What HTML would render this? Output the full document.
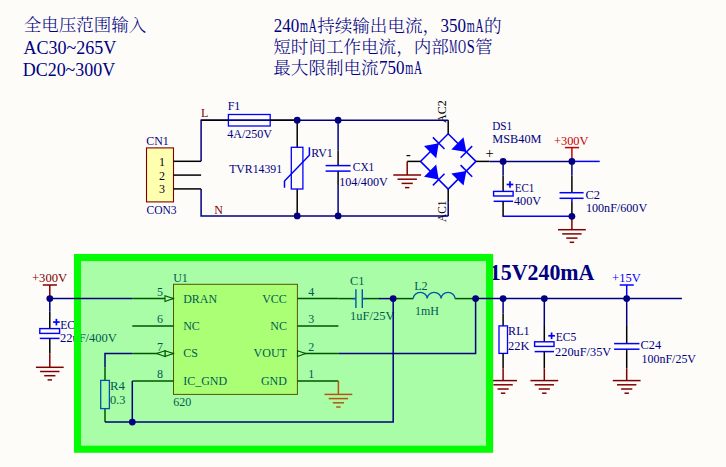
<!DOCTYPE html>
<html><head><meta charset="utf-8"><title>schematic</title>
<style>
html,body{margin:0;padding:0;background:#fefcf9;}
body{width:726px;height:467px;overflow:hidden;}
svg{display:block;font-family:"Liberation Serif","Noto Serif CJK SC",serif;}
</style></head><body>
<svg width="726" height="467" viewBox="0 0 726 467">
<rect width="726" height="467" fill="#fefcf9"/>
<g>
<text x="23.8" y="30.8" fill="#000080" font-size="17.6" textLength="122.6" lengthAdjust="spacingAndGlyphs" text-anchor="start" font-family='"Liberation Serif","Noto Serif CJK SC",serif' font-weight="300">全电压范围输入</text>
<text x="23.4" y="54.0" fill="#000080" font-size="18" textLength="93.0" lengthAdjust="spacingAndGlyphs" text-anchor="start">AC30~265V</text>
<text x="22.7" y="75.7" fill="#000080" font-size="18" textLength="92.6" lengthAdjust="spacingAndGlyphs" text-anchor="start">DC20~300V</text>
<text y="32.0" fill="#000080"><tspan x="273.7" font-size="18" textLength="25.5" lengthAdjust="spacingAndGlyphs" font-family='"Liberation Serif",serif'>240</tspan><tspan x="300.0" font-size="18" textLength="8.0" lengthAdjust="spacingAndGlyphs" font-family='"Liberation Serif",serif'>m</tspan><tspan x="308.8" font-size="18" textLength="8.0" lengthAdjust="spacingAndGlyphs" font-family='"Liberation Serif",serif'>A</tspan><tspan x="317.2" font-size="17.5" font-weight="300" textLength="122.9" lengthAdjust="spacingAndGlyphs" font-family='"Liberation Serif","Noto Serif CJK SC",serif'>持续输出电流，</tspan><tspan x="440.4" font-size="18" textLength="25.5" lengthAdjust="spacingAndGlyphs" font-family='"Liberation Serif",serif'>350</tspan><tspan x="466.8" font-size="18" textLength="8.0" lengthAdjust="spacingAndGlyphs" font-family='"Liberation Serif",serif'>m</tspan><tspan x="475.5" font-size="18" textLength="8.0" lengthAdjust="spacingAndGlyphs" font-family='"Liberation Serif",serif'>A</tspan><tspan x="483.9" font-size="17.5" font-weight="300" textLength="17.6" lengthAdjust="spacingAndGlyphs" font-family='"Liberation Serif","Noto Serif CJK SC",serif'>的</tspan></text>
<text y="52.7" fill="#000080"><tspan x="273.3" font-size="17.5" font-weight="300" textLength="175.5" lengthAdjust="spacingAndGlyphs" font-family='"Liberation Serif","Noto Serif CJK SC",serif'>短时间工作电流，内部</tspan><tspan x="449.2" font-size="18" textLength="8.0" lengthAdjust="spacingAndGlyphs" font-family='"Liberation Serif",serif'>M</tspan><tspan x="458.0" font-size="18" textLength="8.0" lengthAdjust="spacingAndGlyphs" font-family='"Liberation Serif",serif'>O</tspan><tspan x="466.8" font-size="18" textLength="8.0" lengthAdjust="spacingAndGlyphs" font-family='"Liberation Serif",serif'>S</tspan><tspan x="475.1" font-size="17.5" font-weight="300" textLength="17.6" lengthAdjust="spacingAndGlyphs" font-family='"Liberation Serif","Noto Serif CJK SC",serif'>管</tspan></text>
<text y="73.6" fill="#000080"><tspan x="273.3" font-size="17.5" font-weight="300" textLength="105.3" lengthAdjust="spacingAndGlyphs" font-family='"Liberation Serif","Noto Serif CJK SC",serif'>最大限制电流</tspan><tspan x="379.0" font-size="18" textLength="25.5" lengthAdjust="spacingAndGlyphs" font-family='"Liberation Serif",serif'>750</tspan><tspan x="405.3" font-size="18" textLength="8.0" lengthAdjust="spacingAndGlyphs" font-family='"Liberation Serif",serif'>m</tspan><tspan x="414.1" font-size="18" textLength="8.0" lengthAdjust="spacingAndGlyphs" font-family='"Liberation Serif",serif'>A</tspan></text>
<rect x="146.5" y="147.9" width="27.0" height="54.0" stroke="#800000" stroke-width="1.1" fill="#ffffb0"/>
<path d="M173.5 161.3 L201.1 161.3" stroke="#000000" stroke-width="1.5" fill="none" stroke-linecap="butt" stroke-linejoin="miter"/>
<text x="158.9" y="165.7" fill="#00002a" font-size="12" text-anchor="start">1</text>
<path d="M173.5 175.1 L201.1 175.1" stroke="#000000" stroke-width="1.5" fill="none" stroke-linecap="butt" stroke-linejoin="miter"/>
<text x="158.9" y="179.5" fill="#00002a" font-size="12" text-anchor="start">2</text>
<path d="M173.5 188.9 L201.1 188.9" stroke="#000000" stroke-width="1.5" fill="none" stroke-linecap="butt" stroke-linejoin="miter"/>
<text x="158.9" y="193.3" fill="#00002a" font-size="12" text-anchor="start">3</text>
<text x="146.2" y="144.8" fill="#000080" font-size="12" textLength="22.5" lengthAdjust="spacingAndGlyphs" text-anchor="start">CN1</text>
<text x="146.5" y="213.8" fill="#000080" font-size="12" textLength="30.1" lengthAdjust="spacingAndGlyphs" text-anchor="start">CON3</text>
<text x="201.1" y="116.9" fill="#800000" font-size="12" text-anchor="start">L</text>
<text x="214.3" y="213.8" fill="#800000" font-size="12" text-anchor="start">N</text>
<path d="M228.0 120.2 L270.0 120.2" stroke="#0000ff" stroke-width="1.5" fill="none" stroke-linecap="butt" stroke-linejoin="miter"/>
<rect x="228.4" y="114.5" width="41.8" height="11.5" stroke="#0000ff" stroke-width="1.3" fill="none"/>
<text x="227.7" y="110.0" fill="#000080" font-size="12" text-anchor="start">F1</text>
<text x="227.2" y="138.3" fill="#000080" font-size="12" textLength="44.9" lengthAdjust="spacingAndGlyphs" text-anchor="start">4A/250V</text>
<path d="M297.2 120.2 L297.2 147.3" stroke="#000000" stroke-width="1.5" fill="none" stroke-linecap="butt" stroke-linejoin="miter"/>
<path d="M297.2 189.0 L297.2 215.9" stroke="#000000" stroke-width="1.5" fill="none" stroke-linecap="butt" stroke-linejoin="miter"/>
<rect x="291.3" y="147.3" width="11.6" height="41.7" stroke="#0000ff" stroke-width="1.3" fill="none"/>
<path d="M284.5 187.8 L284.5 181.0 L309.4 155.3 L309.4 147.3" stroke="#0000ff" stroke-width="1.5" fill="none" stroke-linecap="butt" stroke-linejoin="miter"/>
<text x="229.2" y="172.8" fill="#000080" font-size="12" textLength="52.9" lengthAdjust="spacingAndGlyphs" text-anchor="start">TVR14391</text>
<text x="311.2" y="157.4" fill="#000080" font-size="12" textLength="21.6" lengthAdjust="spacingAndGlyphs" text-anchor="start">RV1</text>
<path d="M338.1 150.5 L338.1 165.6" stroke="#000000" stroke-width="1.5" fill="none" stroke-linecap="butt" stroke-linejoin="miter"/>
<path d="M338.1 171.1 L338.1 185.0" stroke="#000000" stroke-width="1.5" fill="none" stroke-linecap="butt" stroke-linejoin="miter"/>
<path d="M325.6 165.6 L350.6 165.6" stroke="#0000ff" stroke-width="1.5" fill="none" stroke-linecap="butt" stroke-linejoin="miter"/>
<path d="M325.6 171.1 L350.6 171.1" stroke="#0000ff" stroke-width="1.5" fill="none" stroke-linecap="butt" stroke-linejoin="miter"/>
<text x="352.8" y="171.3" fill="#000080" font-size="12" textLength="21.5" lengthAdjust="spacingAndGlyphs" text-anchor="start">CX1</text>
<text x="339.2" y="185.8" fill="#000080" font-size="12" textLength="48.7" lengthAdjust="spacingAndGlyphs" text-anchor="start">104/400V</text>
<path d="M448.2 133.7 L475.9 161.4 L448.2 189.1 L420.5 161.4 L448.2 133.7 L475.9 161.4" stroke="#0000ff" stroke-width="1.5" fill="none" stroke-linecap="butt" stroke-linejoin="miter"/>
<polygon points="436.2,158.3 424.0,146.1 438.7,143.2" fill="#0000ff"/>
<path d="M444.5 149.0 L432.9 137.4" stroke="#0000ff" stroke-width="1.5" fill="none" stroke-linecap="butt" stroke-linejoin="miter"/>
<polygon points="451.3,149.4 463.5,137.2 466.4,151.9" fill="#0000ff"/>
<path d="M460.6 157.7 L472.2 146.1" stroke="#0000ff" stroke-width="1.5" fill="none" stroke-linecap="butt" stroke-linejoin="miter"/>
<polygon points="436.2,164.5 424.0,176.7 438.7,179.6" fill="#0000ff"/>
<path d="M432.9 185.4 L444.5 173.8" stroke="#0000ff" stroke-width="1.5" fill="none" stroke-linecap="butt" stroke-linejoin="miter"/>
<polygon points="451.3,173.4 463.5,185.6 466.4,170.9" fill="#0000ff"/>
<path d="M472.2 176.7 L460.6 165.1" stroke="#0000ff" stroke-width="1.5" fill="none" stroke-linecap="butt" stroke-linejoin="miter"/>
<path d="M448.2 120.2 L448.2 133.7" stroke="#000000" stroke-width="1.5" fill="none" stroke-linecap="butt" stroke-linejoin="miter"/>
<path d="M448.2 189.1 L448.2 202.3" stroke="#000000" stroke-width="1.5" fill="none" stroke-linecap="butt" stroke-linejoin="miter"/>
<path d="M407.2 161.4 L420.5 161.4" stroke="#000000" stroke-width="1.5" fill="none" stroke-linecap="butt" stroke-linejoin="miter"/>
<path d="M475.9 161.4 L489.6 161.4" stroke="#000000" stroke-width="1.5" fill="none" stroke-linecap="butt" stroke-linejoin="miter"/>
<path d="M407.2 161.4 L407.2 175.0" stroke="#800000" stroke-width="1.5" fill="none" stroke-linecap="butt" stroke-linejoin="miter"/>
<path d="M393.3 175.0 L421.1 175.0" stroke="#800000" stroke-width="1.5" fill="none" stroke-linecap="butt" stroke-linejoin="miter"/>
<path d="M397.5 179.2 L416.9 179.2" stroke="#800000" stroke-width="1.5" fill="none" stroke-linecap="butt" stroke-linejoin="miter"/>
<path d="M401.6 183.4 L412.8 183.4" stroke="#800000" stroke-width="1.5" fill="none" stroke-linecap="butt" stroke-linejoin="miter"/>
<path d="M405.0 187.6 L409.4 187.6" stroke="#800000" stroke-width="1.5" fill="none" stroke-linecap="butt" stroke-linejoin="miter"/>
<text x="405.9" y="159.0" fill="#000000" font-size="14" text-anchor="start" font-weight="bold">-</text>
<text x="485.4" y="158.3" fill="#000000" font-size="14.5" text-anchor="start">+</text>
<text transform="translate(446.2,122.9) rotate(-90)" fill="#000000" font-size="12" textLength="22.6" lengthAdjust="spacingAndGlyphs">AC2</text>
<text transform="translate(445.6,222.0) rotate(-90)" fill="#000000" font-size="12" textLength="21.4" lengthAdjust="spacingAndGlyphs">AC1</text>
<text x="492.2" y="129.5" fill="#000080" font-size="12" textLength="20.0" lengthAdjust="spacingAndGlyphs" text-anchor="start">DS1</text>
<text x="492.3" y="143.0" fill="#000080" font-size="12" textLength="49.2" lengthAdjust="spacingAndGlyphs" text-anchor="start">MSB40M</text>
<path d="M503.1 175.5 L503.1 191.4" stroke="#000000" stroke-width="1.5" fill="none" stroke-linecap="butt" stroke-linejoin="miter"/>
<rect x="493.6" y="191.4" width="19.5" height="4.6" stroke="#0000ff" stroke-width="1.4" fill="none"/>
<path d="M493.6 201.3 L513.1 201.3" stroke="#0000ff" stroke-width="1.5" fill="none" stroke-linecap="butt" stroke-linejoin="miter"/>
<path d="M503.1 201.3 L503.1 216.3" stroke="#000000" stroke-width="1.5" fill="none" stroke-linecap="butt" stroke-linejoin="miter"/>
<path d="M506.7 184.5 L513.3 184.5" stroke="#0000ff" stroke-width="1.7" fill="none" stroke-linecap="butt" stroke-linejoin="miter"/>
<path d="M510.0 181.2 L510.0 187.8" stroke="#0000ff" stroke-width="1.7" fill="none" stroke-linecap="butt" stroke-linejoin="miter"/>
<text x="514.7" y="191.5" fill="#000080" font-size="12" textLength="19.6" lengthAdjust="spacingAndGlyphs" text-anchor="start">EC1</text>
<text x="514.0" y="204.7" fill="#000080" font-size="12" textLength="27.2" lengthAdjust="spacingAndGlyphs" text-anchor="start">400V</text>
<path d="M571.9 175.5 L571.9 192.7" stroke="#000000" stroke-width="1.5" fill="none" stroke-linecap="butt" stroke-linejoin="miter"/>
<path d="M559.5 192.7 L583.6 192.7" stroke="#0000ff" stroke-width="1.5" fill="none" stroke-linecap="butt" stroke-linejoin="miter"/>
<path d="M559.5 198.3 L583.6 198.3" stroke="#0000ff" stroke-width="1.5" fill="none" stroke-linecap="butt" stroke-linejoin="miter"/>
<path d="M571.9 198.3 L571.9 202.0" stroke="#0000ff" stroke-width="1.5" fill="none" stroke-linecap="butt" stroke-linejoin="miter"/>
<path d="M571.9 202.0 L571.9 216.3" stroke="#000000" stroke-width="1.5" fill="none" stroke-linecap="butt" stroke-linejoin="miter"/>
<text x="585.4" y="198.6" fill="#000080" font-size="12" textLength="14.6" lengthAdjust="spacingAndGlyphs" text-anchor="start">C2</text>
<text x="585.9" y="211.9" fill="#000080" font-size="12" textLength="61.3" lengthAdjust="spacingAndGlyphs" text-anchor="start">100nF/600V</text>
<path d="M571.9 161.4 L571.9 147.6" stroke="#c80000" stroke-width="1.5" fill="none" stroke-linecap="butt" stroke-linejoin="miter"/>
<path d="M564.9 147.6 L579.1 147.6" stroke="#c80000" stroke-width="1.5" fill="none" stroke-linecap="butt" stroke-linejoin="miter"/>
<text x="554.0" y="144.8" fill="#c80000" font-size="12" textLength="34.5" lengthAdjust="spacingAndGlyphs" text-anchor="start">+300V</text>
<path d="M571.9 216.3 L571.9 229.7" stroke="#800000" stroke-width="1.5" fill="none" stroke-linecap="butt" stroke-linejoin="miter"/>
<path d="M558.0 229.7 L585.8 229.7" stroke="#800000" stroke-width="1.5" fill="none" stroke-linecap="butt" stroke-linejoin="miter"/>
<path d="M562.2 233.9 L581.6 233.9" stroke="#800000" stroke-width="1.5" fill="none" stroke-linecap="butt" stroke-linejoin="miter"/>
<path d="M566.3 238.1 L577.5 238.1" stroke="#800000" stroke-width="1.5" fill="none" stroke-linecap="butt" stroke-linejoin="miter"/>
<path d="M569.7 242.3 L574.1 242.3" stroke="#800000" stroke-width="1.5" fill="none" stroke-linecap="butt" stroke-linejoin="miter"/>
<rect x="173.5" y="284.3" width="123.9" height="110.1" stroke="#800000" stroke-width="1.0" fill="#ffffb0"/>
<path d="M132.3 298.6 L173.5 298.6" stroke="#000000" stroke-width="1.5" fill="none" stroke-linecap="butt" stroke-linejoin="miter"/>
<text x="157.0" y="295.9" fill="#000080" font-size="12" text-anchor="start">5</text>
<path d="M132.3 326.1 L173.5 326.1" stroke="#000000" stroke-width="1.5" fill="none" stroke-linecap="butt" stroke-linejoin="miter"/>
<text x="157.0" y="323.4" fill="#000080" font-size="12" text-anchor="start">6</text>
<path d="M132.3 353.6 L173.5 353.6" stroke="#000000" stroke-width="1.5" fill="none" stroke-linecap="butt" stroke-linejoin="miter"/>
<text x="157.0" y="350.9" fill="#000080" font-size="12" text-anchor="start">7</text>
<path d="M132.3 381.0 L173.5 381.0" stroke="#000000" stroke-width="1.5" fill="none" stroke-linecap="butt" stroke-linejoin="miter"/>
<text x="157.0" y="378.3" fill="#000080" font-size="12" text-anchor="start">8</text>
<path d="M297.4 298.6 L338.4 298.6" stroke="#000000" stroke-width="1.5" fill="none" stroke-linecap="butt" stroke-linejoin="miter"/>
<text x="308.2" y="295.9" fill="#000080" font-size="12" text-anchor="start">4</text>
<path d="M297.4 326.1 L338.4 326.1" stroke="#000000" stroke-width="1.5" fill="none" stroke-linecap="butt" stroke-linejoin="miter"/>
<text x="308.2" y="323.4" fill="#000080" font-size="12" text-anchor="start">3</text>
<path d="M297.4 353.6 L338.4 353.6" stroke="#000000" stroke-width="1.5" fill="none" stroke-linecap="butt" stroke-linejoin="miter"/>
<text x="308.2" y="350.9" fill="#000080" font-size="12" text-anchor="start">2</text>
<path d="M297.4 381.0 L338.4 381.0" stroke="#000000" stroke-width="1.5" fill="none" stroke-linecap="butt" stroke-linejoin="miter"/>
<text x="308.2" y="378.3" fill="#000080" font-size="12" text-anchor="start">1</text>
<text x="183.2" y="302.8" fill="#000080" font-size="12" text-anchor="start">DRAN</text>
<text x="183.2" y="330.2" fill="#000080" font-size="12" text-anchor="start">NC</text>
<text x="183.2" y="357.1" fill="#000080" font-size="12" text-anchor="start">CS</text>
<text x="183.2" y="384.8" fill="#000080" font-size="12" text-anchor="start">IC_GND</text>
<text x="286.9" y="302.8" fill="#000080" font-size="12" text-anchor="end">VCC</text>
<text x="286.9" y="330.2" fill="#000080" font-size="12" text-anchor="end">NC</text>
<text x="286.9" y="357.1" fill="#000080" font-size="12" text-anchor="end">VOUT</text>
<text x="286.9" y="384.8" fill="#000080" font-size="12" text-anchor="end">GND</text>
<text x="173.2" y="281.6" fill="#000080" font-size="12" text-anchor="start">U1</text>
<text x="173.2" y="405.8" fill="#000080" font-size="12" text-anchor="start">620</text>
<polygon points="165.0,295.7 165.0,301.5 173.3,298.6" fill="#fefcf9" stroke="#000000" stroke-width="1.1"/>
<polygon points="165.0,350.7 165.0,356.4 173.3,353.6" fill="#fefcf9" stroke="#000000" stroke-width="1.1"/>
<polygon points="165.0,350.7 165.0,356.4 156.7,353.6" fill="#fefcf9" stroke="#000000" stroke-width="1.1"/>
<polygon points="297.5,350.7 297.5,356.4 305.5,353.6" fill="#fefcf9" stroke="#000000" stroke-width="1.1"/>
<path d="M49.8 298.6 L49.8 285.0" stroke="#800000" stroke-width="1.5" fill="none" stroke-linecap="butt" stroke-linejoin="miter"/>
<path d="M42.8 285.0 L56.9 285.0" stroke="#800000" stroke-width="1.5" fill="none" stroke-linecap="butt" stroke-linejoin="miter"/>
<text x="32.0" y="281.8" fill="#800000" font-size="12" textLength="35.2" lengthAdjust="spacingAndGlyphs" text-anchor="start">+300V</text>
<path d="M49.8 311.4 L49.8 328.6" stroke="#000000" stroke-width="1.5" fill="none" stroke-linecap="butt" stroke-linejoin="miter"/>
<rect x="39.8" y="328.6" width="19.8" height="4.8" stroke="#0000ff" stroke-width="1.4" fill="none"/>
<path d="M39.8 338.4 L59.6 338.4" stroke="#0000ff" stroke-width="1.5" fill="none" stroke-linecap="butt" stroke-linejoin="miter"/>
<path d="M49.8 338.4 L49.8 353.2" stroke="#000000" stroke-width="1.5" fill="none" stroke-linecap="butt" stroke-linejoin="miter"/>
<path d="M49.8 353.2 L49.8 367.3" stroke="#800000" stroke-width="1.5" fill="none" stroke-linecap="butt" stroke-linejoin="miter"/>
<path d="M35.9 367.3 L63.7 367.3" stroke="#800000" stroke-width="1.5" fill="none" stroke-linecap="butt" stroke-linejoin="miter"/>
<path d="M40.1 371.5 L59.5 371.5" stroke="#800000" stroke-width="1.5" fill="none" stroke-linecap="butt" stroke-linejoin="miter"/>
<path d="M44.2 375.7 L55.4 375.7" stroke="#800000" stroke-width="1.5" fill="none" stroke-linecap="butt" stroke-linejoin="miter"/>
<path d="M47.6 379.9 L52.0 379.9" stroke="#800000" stroke-width="1.5" fill="none" stroke-linecap="butt" stroke-linejoin="miter"/>
<path d="M53.1 322.1 L59.7 322.1" stroke="#0000ff" stroke-width="1.7" fill="none" stroke-linecap="butt" stroke-linejoin="miter"/>
<path d="M56.4 318.8 L56.4 325.4" stroke="#0000ff" stroke-width="1.7" fill="none" stroke-linecap="butt" stroke-linejoin="miter"/>
<text x="60.3" y="328.8" fill="#000080" font-size="12" textLength="20.5" lengthAdjust="spacingAndGlyphs" text-anchor="start">EC4</text>
<text x="59.9" y="342.1" fill="#000080" font-size="12" textLength="57.0" lengthAdjust="spacingAndGlyphs" text-anchor="start">22uF/400V</text>
<path d="M105.0 367.3 L105.0 380.4" stroke="#000000" stroke-width="1.5" fill="none" stroke-linecap="butt" stroke-linejoin="miter"/>
<path d="M105.0 408.6 L105.0 422.1" stroke="#000000" stroke-width="1.5" fill="none" stroke-linecap="butt" stroke-linejoin="miter"/>
<rect x="100.7" y="380.4" width="8.7" height="28.2" stroke="#0000ff" stroke-width="1.3" fill="none"/>
<text x="109.9" y="389.8" fill="#000080" font-size="12" textLength="15.0" lengthAdjust="spacingAndGlyphs" text-anchor="start">R4</text>
<text x="109.9" y="404.0" fill="#000080" font-size="12" textLength="15.5" lengthAdjust="spacingAndGlyphs" text-anchor="start">0.3</text>
<path d="M338.4 298.6 L355.6 298.6" stroke="#000000" stroke-width="1.5" fill="none" stroke-linecap="butt" stroke-linejoin="miter"/>
<path d="M362.1 298.6 L379.5 298.6" stroke="#000000" stroke-width="1.5" fill="none" stroke-linecap="butt" stroke-linejoin="miter"/>
<path d="M355.9 289.2 L355.9 307.9" stroke="#0000ff" stroke-width="1.4" fill="none" stroke-linecap="butt" stroke-linejoin="miter"/>
<path d="M362.3 289.2 L362.3 307.9" stroke="#0000ff" stroke-width="1.4" fill="none" stroke-linecap="butt" stroke-linejoin="miter"/>
<path d="M352.2 298.6 L355.9 298.6" stroke="#0000ff" stroke-width="1.3" fill="none" stroke-linecap="butt" stroke-linejoin="miter"/>
<path d="M362.3 298.6 L366.0 298.6" stroke="#0000ff" stroke-width="1.3" fill="none" stroke-linecap="butt" stroke-linejoin="miter"/>
<text x="350.1" y="285.3" fill="#000080" font-size="12" textLength="14.5" lengthAdjust="spacingAndGlyphs" text-anchor="start">C1</text>
<text x="350.1" y="320.0" fill="#000080" font-size="12" textLength="44.4" lengthAdjust="spacingAndGlyphs" text-anchor="start">1uF/25V</text>
<path d="M393.2 298.6 L413.3 298.6" stroke="#000000" stroke-width="1.5" fill="none" stroke-linecap="butt" stroke-linejoin="miter"/>
<path d="M455.0 298.6 L475.6 298.6" stroke="#000000" stroke-width="1.5" fill="none" stroke-linecap="butt" stroke-linejoin="miter"/>
<path d="M413.3 298.6 a6.95 6.25 0 0 1 13.90 0 a6.95 6.25 0 0 1 13.90 0 a6.95 6.25 0 0 1 13.90 0" stroke="#0000ff" stroke-width="1.4" fill="none"/>
<text x="414.2" y="290.0" fill="#000080" font-size="12" textLength="13.5" lengthAdjust="spacingAndGlyphs" text-anchor="start">L2</text>
<text x="415.0" y="314.5" fill="#000080" font-size="12" textLength="24.0" lengthAdjust="spacingAndGlyphs" text-anchor="start">1mH</text>
<text x="489.8" y="280.3" fill="#000080" font-size="22.6" textLength="104.6" lengthAdjust="spacingAndGlyphs" text-anchor="start" font-weight="bold">15V240mA</text>
<path d="M503.1 313.6 L503.1 325.9" stroke="#000000" stroke-width="1.5" fill="none" stroke-linecap="butt" stroke-linejoin="miter"/>
<rect x="499.0" y="325.9" width="8.5" height="27.5" stroke="#0000ff" stroke-width="1.3" fill="none"/>
<path d="M503.1 353.4 L503.1 368.3" stroke="#000000" stroke-width="1.5" fill="none" stroke-linecap="butt" stroke-linejoin="miter"/>
<path d="M503.1 368.3 L503.1 380.6" stroke="#800000" stroke-width="1.5" fill="none" stroke-linecap="butt" stroke-linejoin="miter"/>
<path d="M489.2 380.6 L517.0 380.6" stroke="#800000" stroke-width="1.5" fill="none" stroke-linecap="butt" stroke-linejoin="miter"/>
<path d="M493.4 384.8 L512.8 384.8" stroke="#800000" stroke-width="1.5" fill="none" stroke-linecap="butt" stroke-linejoin="miter"/>
<path d="M497.5 389.0 L508.7 389.0" stroke="#800000" stroke-width="1.5" fill="none" stroke-linecap="butt" stroke-linejoin="miter"/>
<path d="M500.9 393.2 L505.3 393.2" stroke="#800000" stroke-width="1.5" fill="none" stroke-linecap="butt" stroke-linejoin="miter"/>
<text x="508.1" y="335.0" fill="#000080" font-size="12" textLength="21.5" lengthAdjust="spacingAndGlyphs" text-anchor="start">RL1</text>
<text x="508.1" y="349.5" fill="#000080" font-size="12" textLength="21.5" lengthAdjust="spacingAndGlyphs" text-anchor="start">22K</text>
<path d="M544.3 326.0 L544.3 341.8" stroke="#000000" stroke-width="1.5" fill="none" stroke-linecap="butt" stroke-linejoin="miter"/>
<rect x="534.6" y="341.8" width="19.4" height="4.6" stroke="#0000ff" stroke-width="1.4" fill="none"/>
<path d="M534.6 351.6 L554.0 351.6" stroke="#0000ff" stroke-width="1.5" fill="none" stroke-linecap="butt" stroke-linejoin="miter"/>
<path d="M544.3 351.6 L544.3 368.3" stroke="#000000" stroke-width="1.5" fill="none" stroke-linecap="butt" stroke-linejoin="miter"/>
<path d="M544.3 368.3 L544.3 380.6" stroke="#800000" stroke-width="1.5" fill="none" stroke-linecap="butt" stroke-linejoin="miter"/>
<path d="M530.4 380.6 L558.2 380.6" stroke="#800000" stroke-width="1.5" fill="none" stroke-linecap="butt" stroke-linejoin="miter"/>
<path d="M534.6 384.8 L554.0 384.8" stroke="#800000" stroke-width="1.5" fill="none" stroke-linecap="butt" stroke-linejoin="miter"/>
<path d="M538.7 389.0 L549.9 389.0" stroke="#800000" stroke-width="1.5" fill="none" stroke-linecap="butt" stroke-linejoin="miter"/>
<path d="M542.1 393.2 L546.5 393.2" stroke="#800000" stroke-width="1.5" fill="none" stroke-linecap="butt" stroke-linejoin="miter"/>
<path d="M548.3 335.8 L554.9 335.8" stroke="#0000ff" stroke-width="1.7" fill="none" stroke-linecap="butt" stroke-linejoin="miter"/>
<path d="M551.6 332.5 L551.6 339.1" stroke="#0000ff" stroke-width="1.7" fill="none" stroke-linecap="butt" stroke-linejoin="miter"/>
<text x="555.8" y="341.1" fill="#000080" font-size="12" textLength="20.6" lengthAdjust="spacingAndGlyphs" text-anchor="start">EC5</text>
<text x="555.1" y="355.9" fill="#000080" font-size="12" textLength="56.1" lengthAdjust="spacingAndGlyphs" text-anchor="start">220uF/35V</text>
<path d="M626.7 326.0 L626.7 343.6" stroke="#000000" stroke-width="1.5" fill="none" stroke-linecap="butt" stroke-linejoin="miter"/>
<path d="M614.1 343.6 L639.5 343.6" stroke="#0000ff" stroke-width="1.5" fill="none" stroke-linecap="butt" stroke-linejoin="miter"/>
<path d="M614.1 349.2 L639.5 349.2" stroke="#0000ff" stroke-width="1.5" fill="none" stroke-linecap="butt" stroke-linejoin="miter"/>
<path d="M626.7 349.2 L626.7 368.3" stroke="#000000" stroke-width="1.5" fill="none" stroke-linecap="butt" stroke-linejoin="miter"/>
<path d="M626.7 368.3 L626.7 380.6" stroke="#800000" stroke-width="1.5" fill="none" stroke-linecap="butt" stroke-linejoin="miter"/>
<path d="M612.8 380.6 L640.6 380.6" stroke="#800000" stroke-width="1.5" fill="none" stroke-linecap="butt" stroke-linejoin="miter"/>
<path d="M617.0 384.8 L636.4 384.8" stroke="#800000" stroke-width="1.5" fill="none" stroke-linecap="butt" stroke-linejoin="miter"/>
<path d="M621.1 389.0 L632.3 389.0" stroke="#800000" stroke-width="1.5" fill="none" stroke-linecap="butt" stroke-linejoin="miter"/>
<path d="M624.5 393.2 L628.9 393.2" stroke="#800000" stroke-width="1.5" fill="none" stroke-linecap="butt" stroke-linejoin="miter"/>
<text x="640.6" y="348.5" fill="#000080" font-size="12" textLength="20.5" lengthAdjust="spacingAndGlyphs" text-anchor="start">C24</text>
<text x="641.6" y="362.6" fill="#000080" font-size="12" textLength="54.4" lengthAdjust="spacingAndGlyphs" text-anchor="start">100nF/25V</text>
<path d="M626.7 298.6 L626.7 285.0" stroke="#0000ff" stroke-width="1.5" fill="none" stroke-linecap="butt" stroke-linejoin="miter"/>
<path d="M619.7 285.0 L633.8 285.0" stroke="#0000ff" stroke-width="1.5" fill="none" stroke-linecap="butt" stroke-linejoin="miter"/>
<text x="612.1" y="281.7" fill="#0000ff" font-size="12" textLength="28.6" lengthAdjust="spacingAndGlyphs" text-anchor="start">+15V</text>
</g>
<g>
<rect x="77.5" y="257.5" width="412.1" height="191.75" fill="#00ff00" fill-opacity="0.335" stroke="#00fc00" stroke-opacity="0.985" stroke-width="7.1"/>
</g>
<g>
<path d="M201.1 161.3 L201.1 120.2 L448.3 120.2" stroke="#000080" stroke-width="1.5" fill="none" stroke-linecap="butt" stroke-linejoin="miter"/>
<path d="M201.1 188.9 L201.1 215.9 L448.3 215.9" stroke="#000080" stroke-width="1.5" fill="none" stroke-linecap="butt" stroke-linejoin="miter"/>
<path d="M201.1 120.2 L228.0 120.2" stroke="#000000" stroke-width="1.5" fill="none" stroke-linecap="butt" stroke-linejoin="miter"/>
<path d="M270.0 120.2 L297.2 120.2" stroke="#000000" stroke-width="1.5" fill="none" stroke-linecap="butt" stroke-linejoin="miter"/>
<path d="M338.1 120.2 L338.1 150.5" stroke="#000080" stroke-width="1.5" fill="none" stroke-linecap="butt" stroke-linejoin="miter"/>
<path d="M338.1 185.0 L338.1 215.9" stroke="#000080" stroke-width="1.5" fill="none" stroke-linecap="butt" stroke-linejoin="miter"/>
<circle cx="297.2" cy="120.2" r="3.4" fill="#000080"/>
<circle cx="297.2" cy="215.9" r="3.4" fill="#000080"/>
<circle cx="338.1" cy="120.2" r="3.4" fill="#000080"/>
<circle cx="338.1" cy="215.9" r="3.4" fill="#000080"/>
<path d="M448.2 202.3 L448.2 215.9" stroke="#000080" stroke-width="1.5" fill="none" stroke-linecap="butt" stroke-linejoin="miter"/>
<path d="M489.6 161.4 L571.9 161.4" stroke="#000080" stroke-width="1.5" fill="none" stroke-linecap="butt" stroke-linejoin="miter"/>
<path d="M571.9 161.4 L599.7 161.4" stroke="#0000ff" stroke-width="1.5" fill="none" stroke-linecap="butt" stroke-linejoin="miter"/>
<path d="M503.1 161.4 L503.1 175.5" stroke="#000080" stroke-width="1.5" fill="none" stroke-linecap="butt" stroke-linejoin="miter"/>
<path d="M502.4 216.3 L571.9 216.3" stroke="#0000ff" stroke-width="1.5" fill="none" stroke-linecap="butt" stroke-linejoin="miter"/>
<path d="M571.9 161.4 L571.9 175.5" stroke="#000080" stroke-width="1.5" fill="none" stroke-linecap="butt" stroke-linejoin="miter"/>
<circle cx="503.1" cy="161.4" r="3.4" fill="#000080"/>
<circle cx="571.9" cy="161.4" r="3.4" fill="#000080"/>
<circle cx="571.9" cy="216.3" r="3.4" fill="#000080"/>
<path d="M49.8 298.6 L132.3 298.6" stroke="#000080" stroke-width="1.5" fill="none" stroke-linecap="butt" stroke-linejoin="miter"/>
<path d="M49.8 298.6 L49.8 311.4" stroke="#000080" stroke-width="1.5" fill="none" stroke-linecap="butt" stroke-linejoin="miter"/>
<circle cx="49.8" cy="298.6" r="3.4" fill="#000080"/>
<path d="M132.3 353.6 L105.0 353.6 L105.0 367.3" stroke="#000080" stroke-width="1.5" fill="none" stroke-linecap="butt" stroke-linejoin="miter"/>
<path d="M105.0 422.1 L393.2 422.1 L393.2 298.6" stroke="#000080" stroke-width="1.5" fill="none" stroke-linecap="butt" stroke-linejoin="miter"/>
<path d="M132.3 381.0 L132.3 422.1" stroke="#000080" stroke-width="1.5" fill="none" stroke-linecap="butt" stroke-linejoin="miter"/>
<circle cx="132.3" cy="422.1" r="3.4" fill="#000080"/>
<path d="M338.4 381.0 L338.4 394.4" stroke="#b95510" stroke-width="1.5" fill="none" stroke-linecap="butt" stroke-linejoin="miter"/>
<path d="M324.5 394.4 L352.3 394.4" stroke="#b95510" stroke-width="1.5" fill="none" stroke-linecap="butt" stroke-linejoin="miter"/>
<path d="M328.7 398.6 L348.1 398.6" stroke="#b95510" stroke-width="1.5" fill="none" stroke-linecap="butt" stroke-linejoin="miter"/>
<path d="M332.8 402.8 L344.0 402.8" stroke="#b95510" stroke-width="1.5" fill="none" stroke-linecap="butt" stroke-linejoin="miter"/>
<path d="M336.2 407.0 L340.6 407.0" stroke="#b95510" stroke-width="1.5" fill="none" stroke-linecap="butt" stroke-linejoin="miter"/>
<path d="M379.0 298.6 L393.2 298.6" stroke="#000080" stroke-width="1.5" fill="none" stroke-linecap="butt" stroke-linejoin="miter"/>
<circle cx="393.2" cy="298.6" r="3.4" fill="#000080"/>
<path d="M475.6 298.6 L681.9 298.6" stroke="#000080" stroke-width="1.5" fill="none" stroke-linecap="butt" stroke-linejoin="miter"/>
<path d="M338.4 353.6 L475.6 353.6 L475.6 298.6" stroke="#000080" stroke-width="1.5" fill="none" stroke-linecap="butt" stroke-linejoin="miter"/>
<circle cx="475.6" cy="298.6" r="3.4" fill="#000080"/>
<path d="M503.1 298.6 L503.1 313.6" stroke="#000080" stroke-width="1.5" fill="none" stroke-linecap="butt" stroke-linejoin="miter"/>
<circle cx="503.1" cy="298.6" r="3.4" fill="#000080"/>
<path d="M544.3 298.6 L544.3 326.0" stroke="#000080" stroke-width="1.5" fill="none" stroke-linecap="butt" stroke-linejoin="miter"/>
<circle cx="544.3" cy="298.6" r="3.4" fill="#000080"/>
<path d="M626.7 298.6 L626.7 326.0" stroke="#000080" stroke-width="1.5" fill="none" stroke-linecap="butt" stroke-linejoin="miter"/>
<circle cx="626.7" cy="298.6" r="3.4" fill="#000080"/>
</g>
</svg>
</body></html>
